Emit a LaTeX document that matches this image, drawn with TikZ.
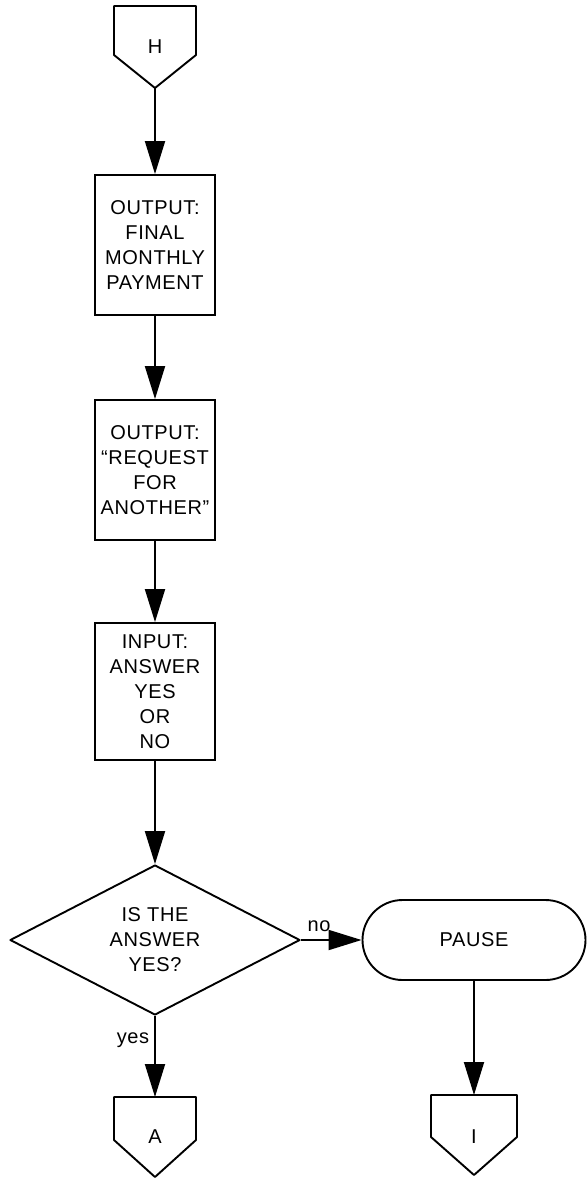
\documentclass[tikz,border=0pt]{standalone}
\usepackage{fontspec}
\setmainfont[LetterSpace=3]{Liberation Sans}
\usetikzlibrary{arrows.meta,shapes.geometric}
\begin{document}
\begin{tikzpicture}[x=1pt,y=-1pt,
  every node/.style={font=\fontsize{20}{25}\selectfont, align=center},
  ln/.style={line width=1.9pt, line join=round},
  arr/.style={line width=1.9pt,-{Triangle[length=33pt,width=20pt]}},
  box/.style={draw, line width=1.9pt, minimum width=120pt, inner sep=0pt},
  lbl/.style={inner sep=1pt}]
\useasboundingbox (0,0) rectangle (587,1179);
% off-page connector H
\draw[ln] (114,6) -- (196,6) -- (196,55) -- (155,88) -- (114,55) -- cycle;
\node (H) at (155,47) {H};
\coordinate (Ht) at (155,88);
% process boxes
\node[box, minimum height=140pt] (b1) at (155,245) {OUTPUT:\\FINAL\\MONTHLY\\PAYMENT};
\node[box, minimum height=140pt] (b2) at (155,470) {OUTPUT:\\``REQUEST\\FOR\\ANOTHER''};
\node[box, minimum height=137pt] (b3) at (155,691.5) {INPUT:\\ANSWER\\YES\\OR\\NO};
% decision
\node[draw, diamond, ln, minimum width=290pt, minimum height=150pt, inner sep=0pt] (d) at (155,940) {};
\node (dt) at (d) {IS THE\\ANSWER\\YES?};
% terminal
\node[draw, ln, rounded corners=40pt, minimum width=223pt, minimum height=80pt] (p) at (474,940) {PAUSE};
% connector A
\draw[ln] (114,1097) -- (196,1097) -- (196,1140) -- (155,1177) -- (114,1140) -- cycle;
\node (A) at (155,1137) {A};
\coordinate (At) at (155,1097);
% connector I
\draw[ln] (431,1095) -- (517,1095) -- (517,1137) -- (474,1175) -- (431,1137) -- cycle;
\node (I) at (474,1137) {I};
\coordinate (It) at (474,1095);
% arrows
\draw[arr] (Ht) -- (b1.north);
\draw[arr] (b1.south) -- (b2.north);
\draw[arr] (b2.south) -- (b3.north);
\draw[arr] (b3.south) -- (d.north);
\draw[arr] (d.east) -- (p.west);
\draw[arr] (d.south) -- (At);
\draw[arr] (p.south) -- (It);
% labels
\node[lbl] (no) at (319,926) {no};
\node[lbl] (yes) at (133,1040) {yes};
\end{tikzpicture}
\end{document}
